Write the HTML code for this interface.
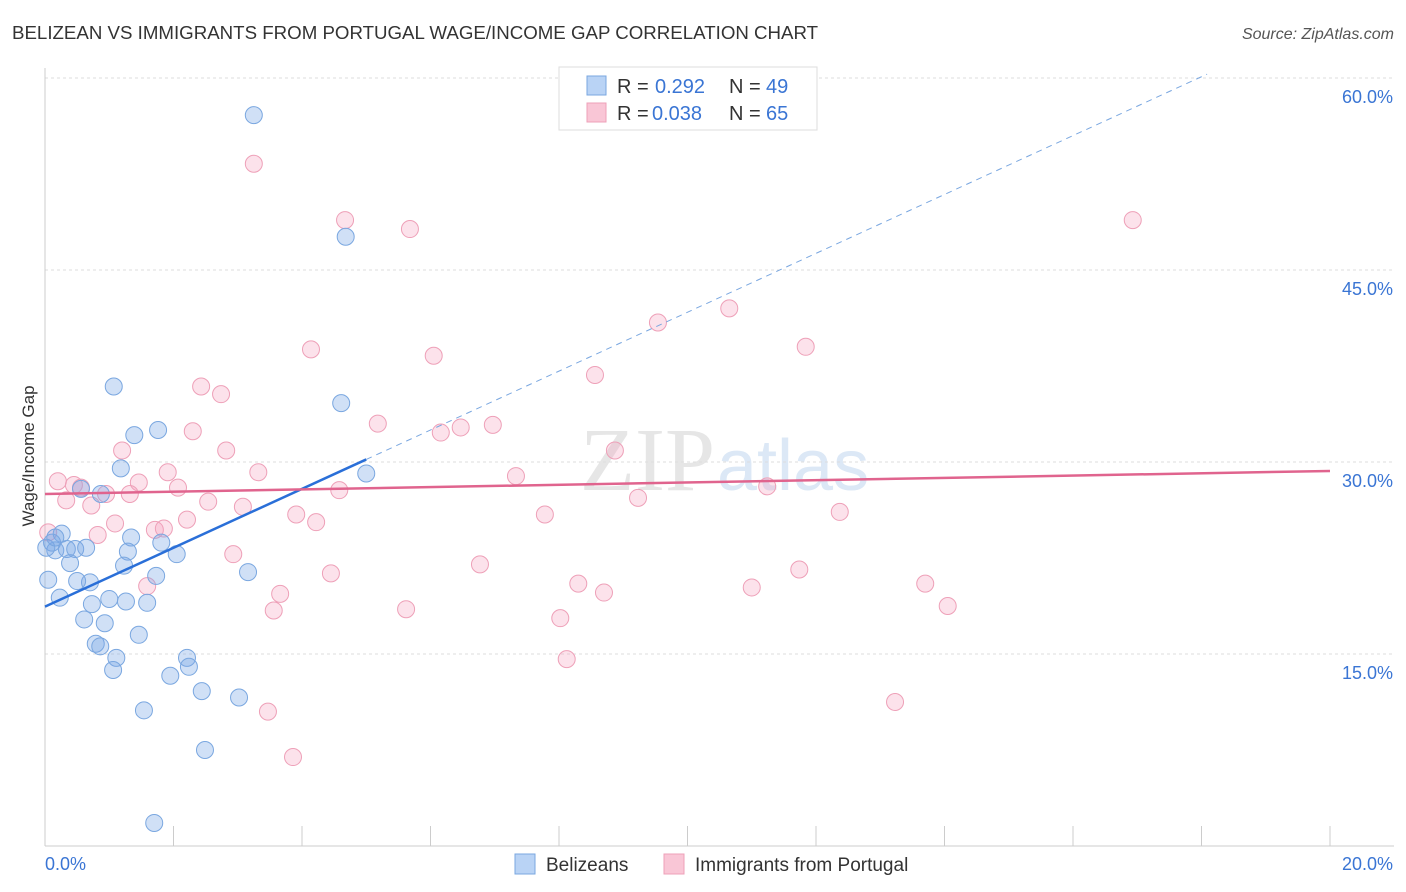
<!DOCTYPE html>
<html><head><meta charset="utf-8"><style>
body{margin:0;background:#fff;font-family:"Liberation Sans",sans-serif}
svg{display:block}
</style></head><body>
<svg id="chart" width="1406" height="892" viewBox="0 0 1406 892" xmlns="http://www.w3.org/2000/svg">
<text x="12" y="39" font-size="18.7" fill="#333">BELIZEAN VS IMMIGRANTS FROM PORTUGAL WAGE/INCOME GAP CORRELATION CHART</text>
<text x="1394" y="39" font-size="16" fill="#555" font-style="italic" text-anchor="end">Source: ZipAtlas.com</text>
<text x="715" y="490" font-size="90" fill="#e6e6e6" text-anchor="end" font-family="Liberation Serif">ZIP</text>
<text x="717" y="490" font-size="72" fill="#dce8f6">atlas</text>
<g id="grid"></g>
<g id="axes"></g>
<g id="marks"></g>
<text transform="translate(34,456) rotate(-90)" font-size="17" fill="#333" text-anchor="middle">Wage/Income Gap</text>
<g>
<rect x="559" y="67" width="258" height="63" fill="#fff" stroke="#ddd"/>
<rect x="587" y="76" width="19" height="19" fill="#b9d3f5" stroke="#7aa7e0"/>
<text x="617" y="93" font-size="20" fill="#333">R = </text>
<text x="655" y="93" font-size="20" fill="#3a75d4">0.292</text>
<text x="729" y="93" font-size="20" fill="#333">N = </text>
<text x="766" y="93" font-size="20" fill="#3a75d4">49</text>
<rect x="587" y="103" width="19" height="19" fill="#f9c6d6" stroke="#eea0b8"/>
<text x="617" y="120" font-size="20" fill="#333">R = </text>
<text x="652" y="120" font-size="20" fill="#3a75d4">0.038</text>
<text x="729" y="120" font-size="20" fill="#333">N = </text>
<text x="766" y="120" font-size="20" fill="#3a75d4">65</text>
</g>
<g>
<rect x="515" y="854" width="20" height="20" fill="#b9d3f5" stroke="#7aa7e0"/>
<text x="546" y="871" font-size="19" fill="#333">Belizeans</text>
<rect x="664" y="854" width="20" height="20" fill="#f9c6d6" stroke="#eea0b8"/>
<text x="695" y="871" font-size="19" fill="#333">Immigrants from Portugal</text>
</g>
</svg>
<script>
const yTicks=[15,30,45,60];
const yTickLabels=["15.0%","30.0%","45.0%","60.0%"];
const xTickLabels=["0.0%","20.0%"];
const blueX=[3.25,4.68,1.07,4.61,1.76,1.39,1.18,5.0,0.56,0.87,0.26,0.11,0.16,0.34,0.47,0.64,1.34,1.81,1.29,2.05,0.39,1.23,1.73,3.16,0.70,0.50,0.23,1.0,1.26,1.59,0.73,0.61,0.93,1.46,0.79,0.86,1.11,2.21,1.06,2.24,1.95,2.44,3.02,1.54,2.49,1.70,0.05,0.02,0.16];
const blueY=[57.1,47.6,35.9,34.6,32.5,32.1,29.5,29.1,27.9,27.5,24.4,23.7,23.1,23.2,23.2,23.3,24.1,23.7,23.0,22.8,22.1,21.9,21.1,21.4,20.6,20.7,19.4,19.3,19.1,19.0,18.9,17.7,17.4,16.5,15.8,15.6,14.7,14.7,13.75,14.0,13.3,12.1,11.6,10.6,7.5,1.8,20.8,23.3,24.1];
const pinkX=[3.25,4.67,5.68,16.93,10.65,9.54,4.14,6.05,11.84,8.56,2.43,2.74,5.18,6.16,6.47,6.97,2.30,1.20,2.82,8.87,1.91,3.32,7.33,0.20,0.45,1.46,2.07,0.56,0.95,1.32,4.58,11.24,0.33,2.54,0.72,3.08,7.78,3.91,12.37,2.21,4.22,1.09,1.71,1.85,0.82,0.05,2.93,6.77,4.45,11.74,8.30,13.70,11.0,1.59,3.66,8.70,3.56,5.62,14.05,8.02,8.12,3.47,13.23,3.86,9.23];
const pinkY=[53.3,48.9,48.2,48.9,42.0,40.9,38.8,38.3,39.0,36.8,35.9,35.3,33.0,32.3,32.7,32.9,32.4,30.9,30.9,30.9,29.2,29.2,28.9,28.5,28.2,28.4,28.0,28.0,27.5,27.5,27.8,28.1,27.0,26.9,26.6,26.5,25.9,25.9,26.1,25.5,25.3,25.2,24.7,24.8,24.3,24.5,22.8,22.0,21.3,21.6,20.5,20.5,20.2,20.3,19.7,19.8,18.4,18.5,18.75,17.8,14.6,10.5,11.25,6.95,27.2];
const blueLine=[18.7,2.3];   // intercept, slope
const pinkLine=[27.5,0.09];
const NS="http://www.w3.org/2000/svg";
const X=v=>45+v*64.25, Y=v=>846-v*12.8;
function mk(tag,attrs,parent){const e=document.createElementNS(NS,tag);for(const k in attrs)e.setAttribute(k,attrs[k]);parent.appendChild(e);return e;}
const grid=document.getElementById('grid'),axes=document.getElementById('axes'),marks=document.getElementById('marks');
yTicks.forEach((t,i)=>{
 const l=mk('line',{x1:45,x2:1394,y1:Y(t),y2:Y(t),stroke:'#ddd','stroke-dasharray':'3,3'},grid);
 
 
 const tx=mk('text',{x:1393,y:Y(t)+25,'font-size':18,fill:'#3a75d4','text-anchor':'end'},axes);
 tx.textContent=yTickLabels[i];
 
 
});
mk('line',{x1:45,x2:45,y1:68,y2:846,stroke:'#ccc'},axes);
mk('line',{x1:45,x2:1394,y1:846,y2:846,stroke:'#ccc'},axes);
for(let v=0;v<=20;v+=2){const t=mk('line',{x1:X(v),x2:X(v),y1:846,y2:826,stroke:'#ccc'},axes);
 
 }
const x0=mk('text',{x:45,y:870,'font-size':18,fill:'#3a75d4'},axes);x0.textContent=xTickLabels[0];


const x1=mk('text',{x:1393,y:870,'font-size':18,fill:'#3a75d4','text-anchor':'end'},axes);x1.textContent=xTickLabels[1];


pinkX.forEach((x,i)=>{const c=mk('circle',{cx:X(x),cy:Y(pinkY[i]),r:8.5,fill:'rgba(245,160,190,0.3)',stroke:'#eea0b8','stroke-width':1},marks);
 
 });
blueX.forEach((x,i)=>{const c=mk('circle',{cx:X(x),cy:Y(blueY[i]),r:8.5,fill:'rgba(120,165,230,0.35)',stroke:'#7aa7e0','stroke-width':1},marks);
 
 });
const bl=mk('line',{x1:X(0),y1:Y(blueLine[0]),x2:X(5),y2:Y(blueLine[0]+5*blueLine[1]),stroke:'#2a6fd8','stroke-width':2.5},marks);


const xe=(60.3-blueLine[0])/blueLine[1];
const bd=mk('line',{x1:X(5),y1:Y(blueLine[0]+5*blueLine[1]),x2:X(xe),y2:Y(60.3),stroke:'#7aa7e0','stroke-width':1,'stroke-dasharray':'6,5'},marks);


const pl=mk('line',{x1:X(0),y1:Y(pinkLine[0]),x2:X(20),y2:Y(pinkLine[0]+20*pinkLine[1]),stroke:'#e0648e','stroke-width':2.5},marks);


</script>
</body></html>
